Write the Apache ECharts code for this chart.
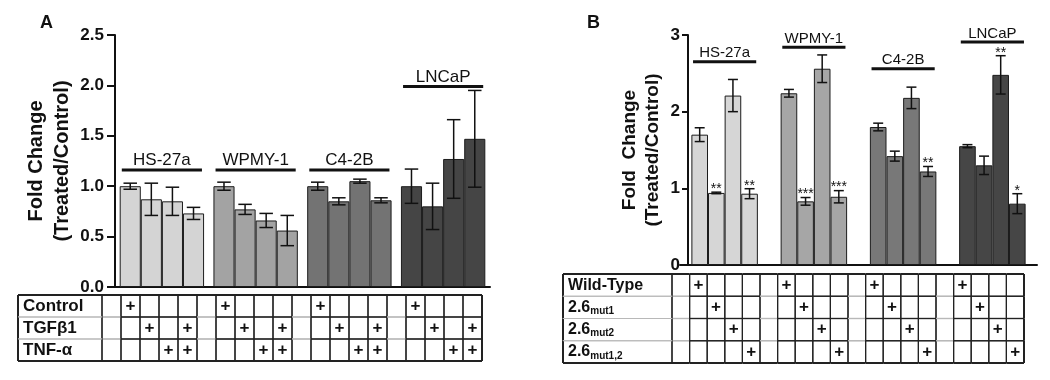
<!DOCTYPE html>
<html><head><meta charset="utf-8">
<script src="https://cdn.jsdelivr.net/npm/echarts@6/dist/echarts.min.js"></script>
<style>html,body{margin:0;padding:0;background:#fff}#c{width:1050px;height:380px}</style>
</head><body><div id="c"></div>
<script>
// ---------- data ----------
const cellLines = ['HS-27a', 'WPMY-1', 'C4-2B', 'LNCaP'];

// Panel A : rows = cell lines, columns = treatments (Control, TGFβ1, TNF-α, TGFβ1+TNF-α)
const valuesA = [
  [1.00, 0.87, 0.85, 0.73],
  [1.00, 0.77, 0.66, 0.56],
  [1.00, 0.85, 1.05, 0.86],
  [1.00, 0.80, 1.27, 1.47]
];
const errorsA = [
  [0.03, 0.16, 0.14, 0.06],
  [0.04, 0.05, 0.07, 0.15],
  [0.04, 0.035, 0.02, 0.025],
  [0.17, 0.23, 0.39, 0.48]
];
const labelLevelA = [1.16, 1.16, 1.16, 1.99];
const tableRowsA = ['Control', 'TGFβ1', 'TNF-α'];
const tableMarksA = [
  [1, 0, 0, 0],
  [0, 1, 0, 1],
  [0, 0, 1, 1]
];

// Panel B : rows = cell lines, columns = constructs (Wild-Type, 2.6mut1, 2.6mut2, 2.6mut1,2)
const valuesB = [
  [1.70, 0.94, 2.21, 0.93],
  [2.24, 0.83, 2.56, 0.89],
  [1.80, 1.42, 2.18, 1.22],
  [1.55, 1.30, 2.48, 0.80]
];
const errorsB = [
  [0.09, 0.01, 0.21, 0.065],
  [0.05, 0.05, 0.18, 0.08],
  [0.05, 0.065, 0.14, 0.065],
  [0.02, 0.12, 0.25, 0.13]
];
const starsB = [
  ['', '**', '', '**'],
  ['', '***', '', '***'],
  ['', '', '', '**'],
  ['', '', '**', '*']
];
const labelLevelB = [2.65, 2.84, 2.56, 2.91];
const tableRowsB = ['{m|Wild-Type}', '{m|2.6}{s|mut1}', '{m|2.6}{s|mut2}', '{m|2.6}{s|mut1,2}'];
const tableMarksB = [
  [1, 0, 0, 0],
  [0, 1, 0, 0],
  [0, 0, 1, 0],
  [0, 0, 0, 1]
];

// ---------- styling ----------
const FONT = "'Liberation Sans', Arial, sans-serif";
const INK = '#111';
const colorsA = ['#d4d4d4', '#a3a3a3', '#737373', '#454545'];
const colorsB = ['#d6d6d6', '#a6a6a6', '#787878', '#464646'];
const GAP_A = 0.10, GAP_B = 0.255;
const NCOLS = cellLines.length * 5;

function ln(x1, y1, x2, y2, stroke, w) {
  return { type: 'line', shape: { x1, y1, x2, y2 }, style: { stroke, lineWidth: w } };
}

function errorRender(vals, errs, stars, gap, capFrac) {
  return function (params, api) {
    const c = api.value(0), s = api.value(2);
    const v = vals[c][s], e = errs[c][s];
    const band = api.size([1, 0])[0];
    const bw = band * (1 - gap) / 4;
    const x = api.coord([c, 0])[0] + (s - 1.5) * bw;
    const yT = api.coord([c, v + e])[1], yB = api.coord([c, v - e])[1];
    const hw = bw * capFrac;
    const ch = [ln(x, yT, x, yB, INK, 1.5), ln(x - hw, yT, x + hw, yT, INK, 1.5), ln(x - hw, yB, x + hw, yB, INK, 1.5)];
    if (stars && stars[c][s]) {
      ch.push({ type: 'text', style: { text: stars[c][s], x: x, y: yT - 3, align: 'center', verticalAlign: 'middle',
        fontSize: 14, fontFamily: FONT, fill: INK } });
    }
    return { type: 'group', children: ch };
  };
}

function groupLabelRender(levels, gap, fontSize) {
  return function (params, api) {
    const c = api.value(0);
    const band = api.size([1, 0])[0];
    const half = band * (1 - gap) / 2 * 0.95;
    const p = api.coord([c, levels[c]]);
    return { type: 'group', children: [
      ln(p[0] - half, p[1], p[0] + half, p[1], INK, 3),
      { type: 'text', style: { text: cellLines[c], x: p[0], y: p[1] - 1, align: 'center', verticalAlign: 'bottom',
        fontSize: fontSize, fontFamily: FONT, fill: INK } }
    ] };
  };
}

function tableRender(marks, nRows) {
  return function (params, api) {
    const col = api.value(0), row = api.value(1);
    const p = api.coord([col, row]); const sz = api.size([1, 1]);
    const x0 = p[0] - sz[0] / 2, x1 = p[0] + sz[0] / 2, y0 = p[1] - sz[1] / 2, y1 = p[1] + sz[1] / 2;
    const t = col % 5 - 1; const blank = t < 0;
    const hc = blank ? '#b8b8b8' : '#222';
    const ch = [
      ln(x0, y0, x0, y1, '#222', 1.2),
      ln(x1, y0, x1, y1, '#222', col === NCOLS - 1 ? 2 : 1.2),
      ln(x0, y0, x1, y0, row === 0 ? '#222' : hc, row === 0 ? 2 : 1.2),
      ln(x0, y1, x1, y1, row === nRows - 1 ? '#222' : hc, row === nRows - 1 ? 2 : 1.2)
    ];
    if (!blank && marks[row][t]) {
      ch.push({ type: 'text', style: { text: '+', x: p[0], y: p[1], align: 'center', verticalAlign: 'middle',
        fontSize: 17, fontWeight: 'bold', fontFamily: FONT, fill: INK } });
    }
    return { type: 'group', children: ch };
  };
}

function labelRender(labels, nRows, rich, fontSize) {
  return function (params, api) {
    const row = api.value(1);
    const p = api.coord([0, row]); const sz = api.size([1, 1]);
    const x0 = p[0] - sz[0] / 2, x1 = p[0] + sz[0] / 2, y0 = p[1] - sz[1] / 2, y1 = p[1] + sz[1] / 2;
    const hc = '#b8b8b8';
    const ch = [
      ln(x0, y0, x0, y1, '#222', 2),
      ln(x1, y0, x1, y1, '#222', 1.2),
      ln(x0, y0, x1, y0, row === 0 ? '#222' : hc, row === 0 ? 2 : 1.2),
      ln(x0, y1, x1, y1, row === nRows - 1 ? '#222' : hc, row === nRows - 1 ? 2 : 1.2),
      { type: 'text', style: { text: labels[row], x: x0 + 5, y: p[1], align: 'left', verticalAlign: 'middle',
        fontSize: fontSize, fontWeight: 'bold', fontFamily: FONT, fill: INK, rich: rich } }
    ];
    return { type: 'group', children: ch };
  };
}

const tableCols = [];
for (let i = 0; i < NCOLS; i++) tableCols.push(String(i));

function cellData(nRows) {
  const d = [];
  for (let c = 0; c < NCOLS; c++) for (let r = 0; r < nRows; r++) d.push([c, r]);
  return d;
}
function labelData(nRows) { const d = []; for (let r = 0; r < nRows; r++) d.push([0, r]); return d; }
function errData(vals) {
  const d = [];
  vals.forEach((row, c) => row.forEach((v, s) => d.push([c, v, s])));
  return d;
}

const valueAxisBase = {
  type: 'value',
  splitLine: { show: false },
  axisLine: { show: true, lineStyle: { color: INK, width: 2 } },
  axisTick: { show: true, inside: false, lineStyle: { color: INK, width: 2 } },
  nameLocation: 'middle', nameRotate: 90
};

const option = {
  animation: false,
  backgroundColor: '#fff',
  title: [
    { text: 'A', left: 35, top: 9, textStyle: { fontSize: 18, fontWeight: 'bold', fontFamily: FONT, color: INK } },
    { text: 'B', left: 582, top: 9, textStyle: { fontSize: 18, fontWeight: 'bold', fontFamily: FONT, color: INK } }
  ],
  grid: [
    { left: 115, top: 35, width: 375, height: 252 },
    { left: 680, top: 35, width: 357, height: 230 },
    { left: 102, top: 295, width: 380, height: 66 },
    { left: 18, top: 295, width: 84, height: 66 },
    { left: 672, top: 274, width: 352, height: 89 },
    { left: 563, top: 274, width: 109, height: 89 }
  ],
  xAxis: [
    { type: 'category', gridIndex: 0, data: cellLines, axisLine: { lineStyle: { color: INK, width: 2 } },
      axisTick: { show: false }, axisLabel: { show: false } },
    { type: 'category', gridIndex: 1, data: cellLines, axisLine: { lineStyle: { color: INK, width: 2 } },
      axisTick: { show: false }, axisLabel: { show: false } },
    { type: 'category', gridIndex: 2, data: tableCols, show: false },
    { type: 'category', gridIndex: 3, data: [''], show: false },
    { type: 'category', gridIndex: 4, data: tableCols, show: false },
    { type: 'category', gridIndex: 5, data: [''], show: false }
  ],
  yAxis: [
    Object.assign({}, valueAxisBase, {
      gridIndex: 0, min: 0, max: 2.5, interval: 0.5,
      axisTick: { show: true, length: 8, lineStyle: { color: INK, width: 2 } },
      axisLabel: { formatter: v => v.toFixed(1), fontSize: 17, fontWeight: 'bold', color: INK, fontFamily: FONT, margin: 11 },
      name: 'Fold Change\n(Treated/Control)', nameGap: 40,
      nameTextStyle: { fontSize: 20, fontWeight: 'bold', color: INK, fontFamily: FONT, lineHeight: 26 }
    }),
    Object.assign({}, valueAxisBase, {
      gridIndex: 1, min: 0, max: 3, interval: 1, offset: -8,
      axisTick: { show: true, length: 6, lineStyle: { color: INK, width: 2 } },
      axisLabel: { fontSize: 17, fontWeight: 'bold', color: INK, fontFamily: FONT, margin: 8 },
      name: 'Fold  Change\n(Treated/Control)', nameGap: 24,
      nameTextStyle: { fontSize: 19, fontWeight: 'bold', color: INK, fontFamily: FONT, lineHeight: 23 }
    }),
    { type: 'category', gridIndex: 2, data: tableRowsA, inverse: true, show: false },
    { type: 'category', gridIndex: 3, data: tableRowsA, inverse: true, show: false },
    { type: 'category', gridIndex: 4, data: tableRowsB, inverse: true, show: false },
    { type: 'category', gridIndex: 5, data: tableRowsB, inverse: true, show: false }
  ],
  series: []
};

// bars
for (let s = 0; s < 4; s++) {
  option.series.push({
    type: 'bar', xAxisIndex: 0, yAxisIndex: 0, barGap: '0%', barCategoryGap: (GAP_A * 100) + '%',
    data: valuesA.map(r => r[s]),
    itemStyle: { color: p => colorsA[p.dataIndex], borderColor: '#1c1c1c', borderWidth: 1 }
  });
  option.series.push({
    type: 'bar', xAxisIndex: 1, yAxisIndex: 1, barGap: '0%', barCategoryGap: (GAP_B * 100) + '%',
    data: valuesB.map(r => r[s]),
    itemStyle: { color: p => colorsB[p.dataIndex], borderColor: '#1c1c1c', borderWidth: 1 }
  });
}
// error bars
option.series.push({ type: 'custom', xAxisIndex: 0, yAxisIndex: 0, z: 5, encode: { x: 0, y: 1 },
  data: errData(valuesA), renderItem: errorRender(valuesA, errorsA, null, GAP_A, 0.32) });
option.series.push({ type: 'custom', xAxisIndex: 1, yAxisIndex: 1, z: 5, encode: { x: 0, y: 1 },
  data: errData(valuesB), renderItem: errorRender(valuesB, errorsB, starsB, GAP_B, 0.3) });
// group labels
option.series.push({ type: 'custom', xAxisIndex: 0, yAxisIndex: 0, z: 5, encode: { x: 0, y: 1 },
  data: labelLevelA.map((v, i) => [i, v]), renderItem: groupLabelRender(labelLevelA, GAP_A, 17) });
option.series.push({ type: 'custom', xAxisIndex: 1, yAxisIndex: 1, z: 5, encode: { x: 0, y: 1 },
  data: labelLevelB.map((v, i) => [i, v]), renderItem: groupLabelRender(labelLevelB, GAP_B, 15) });
// tables
const richB = {
  m: { fontSize: 16, fontWeight: 'bold', fontFamily: FONT, color: INK, lineHeight: 18 },
  s: { fontSize: 10, fontWeight: 'bold', fontFamily: FONT, color: INK, lineHeight: 10, padding: [8, 0, 0, 0] }
};
option.series.push({ type: 'custom', xAxisIndex: 2, yAxisIndex: 2, encode: { x: 0, y: 1 },
  data: cellData(tableRowsA.length), renderItem: tableRender(tableMarksA, tableRowsA.length) });
option.series.push({ type: 'custom', xAxisIndex: 3, yAxisIndex: 3, encode: { x: 0, y: 1 },
  data: labelData(tableRowsA.length), renderItem: labelRender(tableRowsA, tableRowsA.length, null, 17) });
option.series.push({ type: 'custom', xAxisIndex: 4, yAxisIndex: 4, encode: { x: 0, y: 1 },
  data: cellData(tableRowsB.length), renderItem: tableRender(tableMarksB, tableRowsB.length) });
option.series.push({ type: 'custom', xAxisIndex: 5, yAxisIndex: 5, encode: { x: 0, y: 1 },
  data: labelData(tableRowsB.length), renderItem: labelRender(tableRowsB, tableRowsB.length, richB, 16) });

const chart = echarts.init(document.getElementById('c'), null, { renderer: 'canvas' });
chart.setOption(option);
</script>
</body></html>
